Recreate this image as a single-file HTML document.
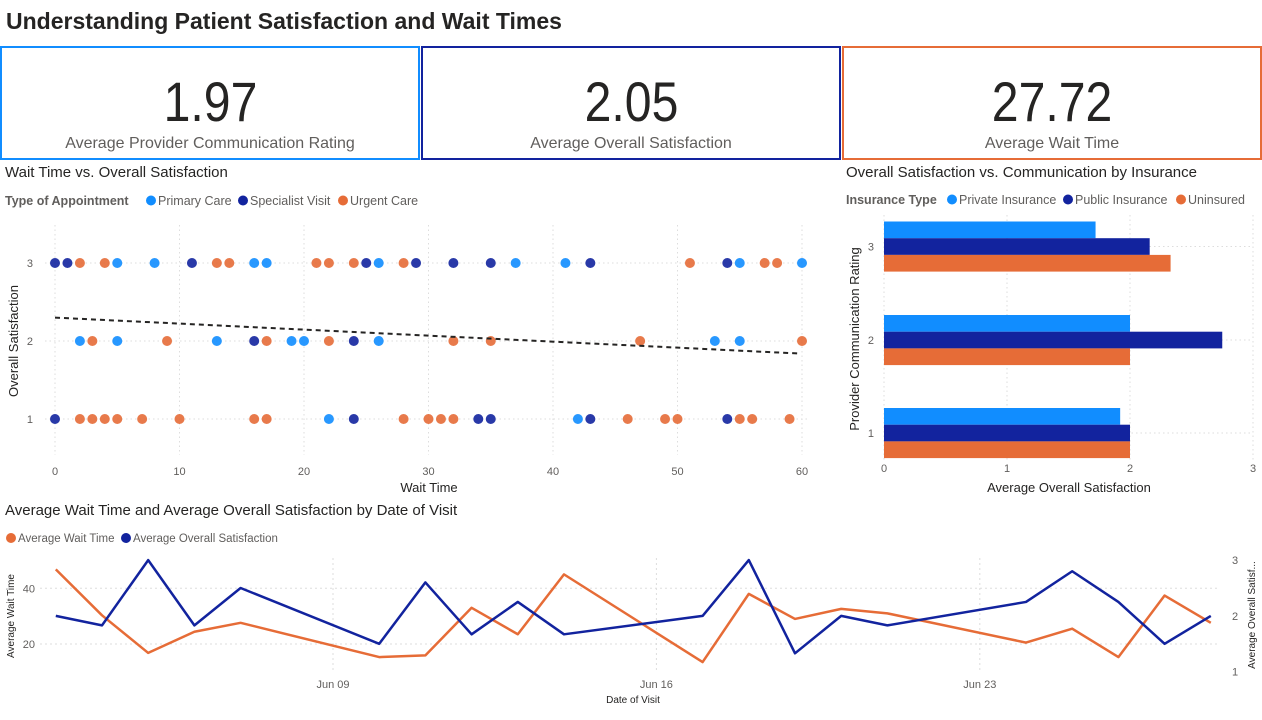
<!DOCTYPE html>
<html><head><meta charset="utf-8">
<style>
body{margin:0;width:1262px;height:720px;overflow:hidden;background:#fff;font-family:"Liberation Sans",sans-serif;}
#root{position:relative;width:1262px;height:720px;}
.kpi{position:absolute;top:46px;height:114px;box-sizing:border-box;text-align:center;}
.kpi .v{position:absolute;left:0;right:0;top:22px;font-size:56px;line-height:64px;color:#252423;}
.kpi .v span{display:inline-block;transform:scaleX(0.86);}
.kpi .l{position:absolute;left:0;right:0;top:86px;font-size:16px;line-height:20px;color:#605E5C;}
svg{position:absolute;left:0;top:0;}
</style></head><body><div id="root">
<div style="position:absolute;left:6px;top:8px;font-size:23px;font-weight:bold;color:#252423;">Understanding Patient Satisfaction and Wait Times</div>
<div class="kpi" style="left:0;width:420px;border:2px solid #118DFF;"><div class="v"><span>1.97</span></div><div class="l">Average Provider Communication Rating</div></div>
<div class="kpi" style="left:421px;width:420px;border:2px solid #12239E;"><div class="v"><span>2.05</span></div><div class="l">Average Overall Satisfaction</div></div>
<div class="kpi" style="left:842px;width:420px;border:2px solid #E66C37;"><div class="v"><span>27.72</span></div><div class="l">Average Wait Time</div></div>
<svg id="svg" width="1262" height="720" font-family="Liberation Sans, sans-serif"></svg>
</div>
<script>
// ---------- scatter data ----------
const scatterCats = ['Primary Care','Specialist Visit','Urgent Care'];
const scatterWait = [0,1,2,4,5,8,11,13,14,16,17,21,22,24,25,26,28,29,32,35,37,41,43,51,54,55,57,58,60,
 2,3,5,9,13,16,17,19,20,22,24,26,32,35,47,53,55,60,
 0,2,3,4,5,7,10,16,17,22,24,28,30,31,32,34,35,42,43,46,49,50,54,55,56,59];
const scatterSat = [3,3,3,3,3,3,3,3,3,3,3,3,3,3,3,3,3,3,3,3,3,3,3,3,3,3,3,3,3,
 2,2,2,2,2,2,2,2,2,2,2,2,2,2,2,2,2,2,
 1,1,1,1,1,1,1,1,1,1,1,1,1,1,1,1,1,1,1,1,1,1,1,1,1,1];
const scatterType = [1,1,2,2,0,0,1,2,2,0,0,2,2,2,1,0,2,1,1,1,0,0,1,2,1,0,2,2,0,
 0,2,0,2,0,1,2,0,0,2,1,0,2,2,2,0,0,2,
 1,2,2,2,2,2,2,2,2,0,1,2,2,2,2,1,1,0,1,2,2,2,1,2,2,2];
const trendWait = [0,59.7];
const trendSat = [2.30,1.84];
const scatterXTicks = [0,10,20,30,40,50,60];
const scatterYTicks = [1,2,3];
// ---------- bar data ----------
const barRatings = [3,2,1];
const barSeries = ['Private Insurance','Public Insurance','Uninsured'];
const barPrivate = [1.72,2.0,1.92];
const barPublic = [2.16,2.75,2.0];
const barUninsured = [2.33,2.0,2.0];
const barXTicks = [0,1,2,3];
// ---------- line data ----------
const lineDays = [3,4,5,6,7,10,11,12,13,14,17,18,19,20,21,24,25,26,27,28];
const lineWait = [46.8,30.3,16.8,24.4,27.6,15.3,15.9,33,23.5,45,13.5,38,29,32.6,31,20.5,25.5,15.3,37.4,27.6];
const lineSat = [2.0,1.83,3,1.83,2.5,1.5,2.6,1.67,2.25,1.67,2.0,3,1.33,2.0,1.83,2.25,2.8,2.25,1.5,2.0];
const lineXTicks = [9,16,23];
const lineXTickLabels = ['Jun 09','Jun 16','Jun 23'];
const lineLeftTicks = [20,40];
const lineRightTicks = [1,2,3];

const NS='http://www.w3.org/2000/svg';
const svg=document.getElementById('svg');
const COLORS=['#118DFF','#12239E','#E66C37'];
function mk(tag,attrs,parent,text){const e=document.createElementNS(NS,tag);for(const k in attrs)e.setAttribute(k,attrs[k]);if(text!==undefined)e.textContent=text;(parent||svg).appendChild(e);return e;}

// ================= SCATTER =================
const sx=v=>55+(v-0)*(802-55)/60;
const sy=v=>419-(v-1)*(419-263)/2;
let g=mk('g',{});


let t=mk('text',{x:5,y:177,'font-size':15,fill:'#252423'},g,'Wait Time vs. Overall Satisfaction');

t=mk('text',{x:5,y:205,'font-size':12.5,'font-weight':'bold',fill:'#605E5C'},g,'Type of Appointment');

let lx=[151,243,343];
scatterCats.forEach((c,i)=>{
 const lg=mk('g',{},g);
 
 
 mk('circle',{cx:lx[i],cy:200.5,r:5,fill:COLORS[i]},lg);
 mk('text',{x:lx[i]+7,y:205,'font-size':12.5,fill:'#605E5C'},lg,c);
});
scatterXTicks.forEach(v=>{
 const l=mk('line',{x1:sx(v),x2:sx(v),y1:225,y2:455,stroke:'#ddd','stroke-dasharray':'1.5 3'},g);
 
 const tt=mk('text',{x:sx(v),y:475,'font-size':11,fill:'#605E5C','text-anchor':'middle'},g,v);
 
});
scatterYTicks.forEach(v=>{
 const l=mk('line',{x1:45,x2:810,y1:sy(v),y2:sy(v),stroke:'#ddd','stroke-dasharray':'1.5 3'},g);
 
 const tt=mk('text',{x:33,y:sy(v)+4,'font-size':11,fill:'#605E5C','text-anchor':'end'},g,v);
 
});
t=mk('text',{x:429,y:492,'font-size':13,fill:'#252423','text-anchor':'middle'},g,'Wait Time');

t=mk('text',{x:0,y:0,'font-size':13,fill:'#252423','text-anchor':'middle',transform:'translate(18,341) rotate(-90)'},g,'Overall Satisfaction');

scatterWait.forEach((w,i)=>{
 const c=mk('circle',{cx:sx(w),cy:sy(scatterSat[i]),r:5,fill:COLORS[scatterType[i]],'fill-opacity':0.9},g);
 
 
});
const tl=mk('line',{x1:sx(trendWait[0]),y1:sy(trendSat[0]),x2:sx(trendWait[1]),y2:sy(trendSat[1]),stroke:'#252423','stroke-width':2,'stroke-dasharray':'5 4'},g);



// ================= BAR =================
const bx=v=>884+v*(1253-884)/3;
const bandTop=[221.5,315,408];
const barH=16.7;
g=mk('g',{});


t=mk('text',{x:846,y:177,'font-size':15,fill:'#252423'},g,'Overall Satisfaction vs. Communication by Insurance');

t=mk('text',{x:846,y:204,'font-size':12.5,'font-weight':'bold',fill:'#605E5C'},g,'Insurance Type');

lx=[952,1068,1181];
barSeries.forEach((c,i)=>{
 const lg=mk('g',{},g);
 
 
 mk('circle',{cx:lx[i],cy:199.5,r:5,fill:COLORS[i]},lg);
 mk('text',{x:lx[i]+7,y:204,'font-size':12.5,fill:'#605E5C'},lg,c);
});
barXTicks.forEach(v=>{
 const l=mk('line',{x1:bx(v),x2:bx(v),y1:215,y2:460,stroke:'#ddd','stroke-dasharray':'1.5 3'},g);
 
 const tt=mk('text',{x:bx(v),y:472,'font-size':11,fill:'#605E5C','text-anchor':'middle'},g,v);
 
});
const barVals=[barPrivate,barPublic,barUninsured];
barRatings.forEach((r,gi)=>{
 const yc=bandTop[gi]+barH*1.5;
 const l=mk('line',{x1:884,x2:1253,y1:yc,y2:yc,stroke:'#ddd','stroke-dasharray':'1.5 3'},g);
 
 const tt=mk('text',{x:874,y:yc+4,'font-size':11,fill:'#605E5C','text-anchor':'end'},g,r);
 
 barVals.forEach((arr,si)=>{
  const rc=mk('rect',{x:bx(0),y:bandTop[gi]+si*barH,width:bx(arr[gi])-bx(0),height:barH,fill:COLORS[si]},g);
  
  
 });
});
t=mk('text',{x:1069,y:492,'font-size':13,fill:'#252423','text-anchor':'middle'},g,'Average Overall Satisfaction');

t=mk('text',{x:0,y:0,'font-size':13,fill:'#252423','text-anchor':'middle',transform:'translate(859,339) rotate(-90)'},g,'Provider Communication Rating');


// ================= LINE =================
const ldx=d=>333+(d-9)*46.2;
const lyL=v=>644-(v-20)*2.785;
const lyR=v=>671.7-(v-1)*55.8;
g=mk('g',{});


t=mk('text',{x:5,y:515,'font-size':15,fill:'#252423'},g,'Average Wait Time and Average Overall Satisfaction by Date of Visit');

[['Average Wait Time',11,COLORS[2]],['Average Overall Satisfaction',126,COLORS[1]]].forEach(e=>{
 const lg=mk('g',{},g);
 
 
 mk('circle',{cx:e[1],cy:538,r:5,fill:e[2]},lg);
 mk('text',{x:e[1]+7,y:542,'font-size':11.5,fill:'#605E5C'},lg,e[0]);
});
lineLeftTicks.forEach(v=>{
 const l=mk('line',{x1:40,x2:1220,y1:lyL(v),y2:lyL(v),stroke:'#ddd','stroke-dasharray':'2 3'},g);
 
 const tt=mk('text',{x:35,y:lyL(v)+4,'font-size':11,fill:'#605E5C','text-anchor':'end'},g,v);
 
});
lineRightTicks.forEach(v=>{
 const tt=mk('text',{x:1232,y:lyR(v)+4,'font-size':11,fill:'#605E5C'},g,v);
 
});
lineXTicks.forEach((d,i)=>{
 const l=mk('line',{x1:ldx(d),x2:ldx(d),y1:558,y2:672,stroke:'#ddd','stroke-dasharray':'2 3'},g);
 
 const tt=mk('text',{x:ldx(d),y:688,'font-size':11,fill:'#605E5C','text-anchor':'middle'},g,lineXTickLabels[i]);
 
});
t=mk('text',{x:633,y:703,'font-size':10,fill:'#252423','text-anchor':'middle'},g,'Date of Visit');

t=mk('text',{x:0,y:0,'font-size':10,fill:'#252423','text-anchor':'middle',transform:'translate(14,616) rotate(-90)'},g,'Average Wait Time');

t=mk('text',{x:0,y:0,'font-size':10,fill:'#252423','text-anchor':'middle',transform:'translate(1255,615) rotate(-90)'},g,'Average Overall Satisf...');

let p=mk('polyline',{points:lineDays.map((d,i)=>ldx(d)+','+lyL(lineWait[i])).join(' '),fill:'none',stroke:COLORS[2],'stroke-width':2.5,'stroke-linejoin':'round'},g);

p=mk('polyline',{points:lineDays.map((d,i)=>ldx(d)+','+lyR(lineSat[i])).join(' '),fill:'none',stroke:'#12239E','stroke-width':2.5,'stroke-linejoin':'round'},g);

</script>
</body></html>
